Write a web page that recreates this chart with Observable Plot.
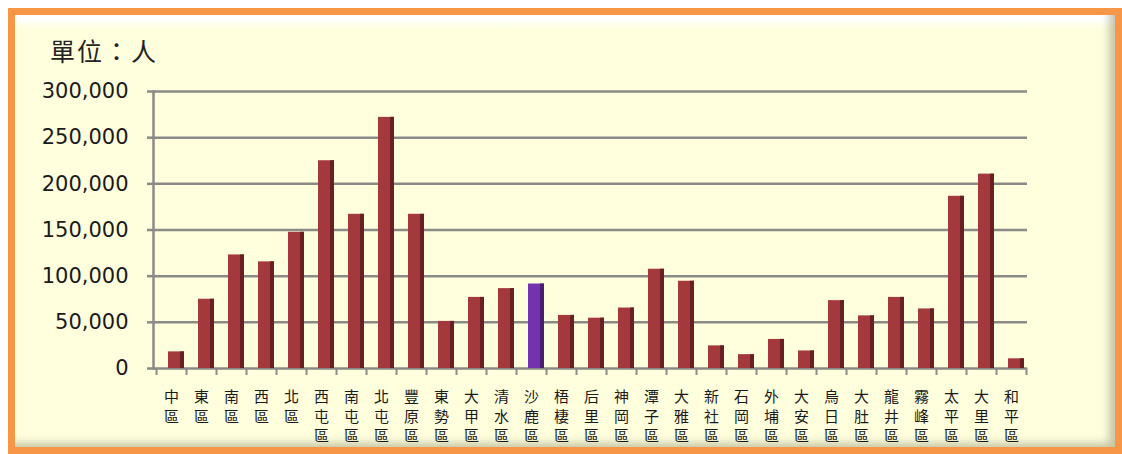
<!DOCTYPE html>
<html><head><meta charset="utf-8">
<script src="https://cdn.jsdelivr.net/npm/d3@7"></script>
<script src="https://cdn.jsdelivr.net/npm/@observablehq/plot@0.6"></script>
<style>
html,body{margin:0;padding:0;background:#fff;}
#wrap{position:relative;width:1122px;height:454px;overflow:hidden;}
#panel{position:absolute;left:8px;top:8px;width:1100px;height:432px;border:7px solid #F79646;
  background:linear-gradient(#ffffff 0px,#ffffff 4px,#FFFFDE 14px);
  box-shadow: inset -10px -8px 8px -4px rgba(90,90,60,0.35);}
#unit{position:absolute;left:50px;top:32px;font:25px "Noto Sans CJK TC";letter-spacing:2px;color:#222;}
#chart{position:absolute;left:0;top:0;}
</style></head>
<body>
<div id="wrap">
  <div id="panel"></div>
  <div id="unit">單位：人</div>
  <div id="chart"></div>
</div>
<script>
const districts = ["中區","東區","南區","西區","北區","西屯區","南屯區","北屯區","豐原區","東勢區",
  "大甲區","清水區","沙鹿區","梧棲區","后里區","神岡區","潭子區","大雅區","新社區","石岡區",
  "外埔區","大安區","烏日區","大肚區","龍井區","霧峰區","太平區","大里區","和平區"];
const population = [18000, 75000, 123000, 115500, 147500, 225000, 167000, 272000, 167000, 51000,
  77000, 86500, 91500, 57500, 54500, 65500, 107500, 94500, 24500, 15000,
  31500, 19000, 73500, 57000, 77000, 64500, 186500, 210500, 10500];
const highlight = "沙鹿區";
const yTicks = [0, 50000, 100000, 150000, 200000, 250000, 300000];

const data = districts.map((name, i) => ({name, value: population[i]}));
const face = d => d.name === highlight ? "#7433AE" : "#A3393C";
const side = d => d.name === highlight ? "#4A1E72" : "#6A2022";
const grid = "#8a8a86";

const plot = Plot.plot({
  width: 1122, height: 454,
  marginLeft: 155, marginRight: 95, marginTop: 91, marginBottom: 86,
  style: {background: "transparent", overflow: "visible"},
  x: {domain: districts, padding: 0, label: null},
  y: {domain: [0, 300000], label: null},
  marks: [
    Plot.ruleY(yTicks, {stroke: grid, strokeWidth: 2.5}),
    Plot.frame({anchor: "left", stroke: grid, strokeWidth: 2.5, dx: -2}),
    Plot.axisY({ticks: yTicks, tickFormat: d3.format(","), tickSize: 8, tickPadding: 19,
      stroke: grid, strokeWidth: 2.5, fill: "#1a1a1a", fontSize: 21, fontFamily: "DejaVu Sans", label: null}),
    Plot.ruleX(districts, {x: d => d, y1: 0, y2: 0, insetBottom: -7, dx: -15, stroke: grid, strokeWidth: 2}),
    Plot.ruleX(districts.slice(-1), {x: d => d, y1: 0, y2: 0, insetBottom: -7, dx: 15, stroke: grid, strokeWidth: 2}),
    Plot.barY(data, {x: "name", y: "value", fill: face, insetLeft: 7, insetRight: 7, dx: 5}),
    Plot.barY(data, {x: "name", y: "value", fill: side, insetLeft: 19, insetRight: 7, dx: 5}),
    Plot.axisX({tickSize: 0, tickPadding: 20, tickFormat: d => [...d].join("\n"), fontSize: 15,
      lineHeight: 1.3, fontFamily: "Noto Sans CJK TC", fill: "#1a1a1a", label: null})
  ]
});
document.getElementById("chart").appendChild(plot);
</script>
</body></html>
